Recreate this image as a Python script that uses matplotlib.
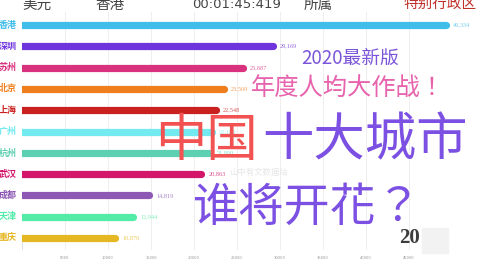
import matplotlib
matplotlib.use("Agg")
import matplotlib.pyplot as plt
from matplotlib.patches import Rectangle

plt.rcParams['font.family'] = ['Noto Sans CJK SC', 'DejaVu Sans']

# data (GDP per capita, USD)
cities = ['香港', '深圳', '苏州', '北京', '上海', '广州', '杭州', '武汉', '成都', '天津', '重庆']
values = [49334, 29169, 25687, 23509, 22548, 22100, 21800, 20863, 14819, 12944, 10870]
colors = ['#40bde8', '#6f35dd', '#d8327f', '#ee7f1c', '#c9211f', '#72eaf0',
          '#5dd0b2', '#d3166b', '#8c58b4', '#52eba8', '#e5b723']
ticks = [5000, 10000, 15000, 20000, 25000, 30000, 35000, 40000, 45000]
header = ['美元', '香港', '00:01:45:419', '所属', '特别行政区']
header_x = [22, 95, 192, 304, 403]

W, H = 480, 270
fig = plt.figure(figsize=(W / 100, H / 100), dpi=100)
fig.patch.set_facecolor('white')

# axes placed by pixel: x 22..480, y 12..250 (from top)
ax = fig.add_axes([22 / W, 1 - 250 / H, 1 - 22 / W, 238 / H])
ax.set_xlim(0, (W - 22) / 43 * 5000)
ax.set_ylim(10.56, -0.61)
for s in ax.spines.values():
    s.set_visible(False)
ax.set_yticks([])
ax.set_xticks(ticks)
ax.set_xticklabels([str(t) for t in ticks], fontsize=3, color='#999999')
ax.tick_params(axis='x', length=0, pad=4)
for t in ticks:
    ax.axvline(t, color='#ebebeb', lw=0.6, zorder=0)
ax.axvline(0, ymin=0, ymax=0.04, color='#dddddd', lw=0.6, zorder=0)

ys = list(range(len(cities)))
ax.hlines(ys, 0, values, colors=colors, linewidth=5.2, capstyle='round', zorder=2)
for y, v, c, name in zip(ys, values, colors, cities):
    ax.annotate(f'{v:,}', (v, y), xytext=(5, 0), textcoords='offset points',
                fontsize=4.5, color=c, alpha=0.75, va='center', ha='left',
                family=['Liberation Serif'])
    ax.text(-600, y, name, fontsize=6.5, color=c, ha='right', va='center',
            fontweight='bold')

# header row
for x, txt in zip(header_x, header):
    col = '#c0302b' if txt == '特别行政区' else '#444444'
    if ':' in txt:
        fig.text(x / W, 1 - 5 / H, txt, fontsize=9.5, color=col, ha='left',
                 va='center', family=['DejaVu Sans'])
    else:
        fig.text(x / W, 1 - 5 / H, txt, fontsize=10.5, color=col, ha='left', va='center')

# watermark
fig.text(258 / W, 1 - 172 / H, '山中有文数据站', fontsize=6, color='#e6e6e6',
         ha='center', va='center')

# overlay titles (TC font centres the full-width ！ and ？)
fig.text(350 / W, 1 - 58 / H, '2020最新版', fontsize=13.5, color='#7b55d9',
         ha='center', va='center')
fig.text(348 / W, 1 - 88 / H, '年度人均大作战！', fontsize=17.5, color='#e763ad',
         ha='center', va='center', family=['Noto Sans CJK TC', 'Noto Sans CJK SC'])
fig.text(155 / W, 1 - 141 / H, '中国', fontsize=37, color='#f25252',
         ha='left', va='center')
fig.text(262 / W, 1 - 141 / H, '十大城市', fontsize=37, color='#7b50e2',
         ha='left', va='center')
fig.text(192 / W, 1 - 208 / H, '谁将开花？', fontsize=33, color='#7b50e2',
         ha='left', va='center', family=['Noto Sans CJK TC', 'Noto Sans CJK SC'])

# year counter
fig.patches.append(Rectangle((422 / W, 1 - 253 / H), 26 / W, 25 / H,
                             transform=fig.transFigure, color='#f2f2f2', zorder=0))
fig.text(420 / W, 1 - 238 / H, '20', fontsize=15, color='#3d3d3d', fontweight='bold',
         ha='right', va='center', family=['Liberation Serif'])

fig.savefig('out.png', dpi=100)
